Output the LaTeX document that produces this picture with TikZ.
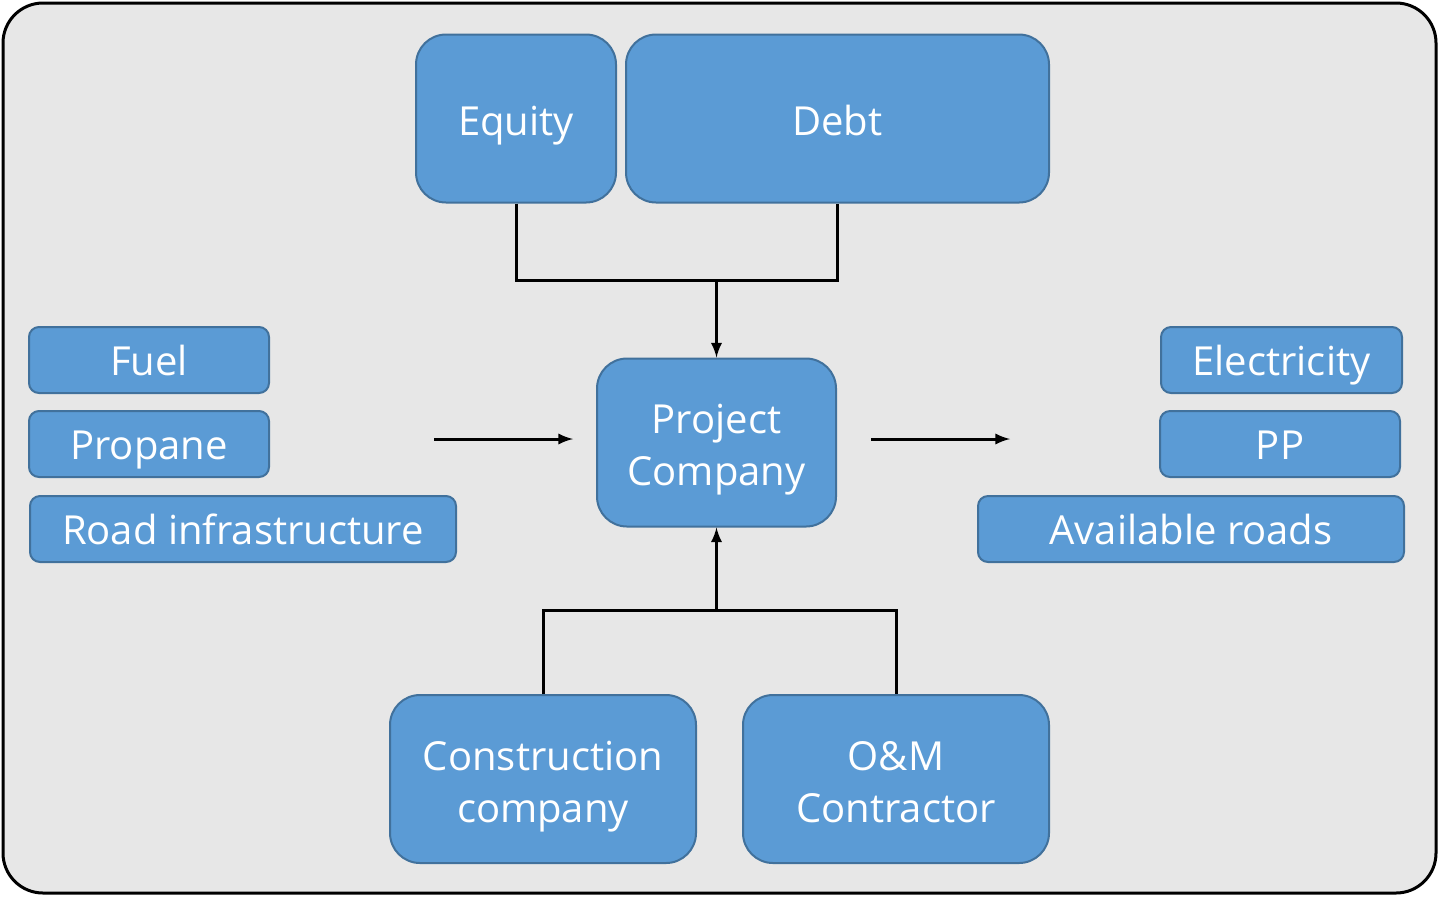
\documentclass[tikz,border=0pt]{standalone}
\usepackage{fontspec}
\setmainfont{Open Sans}
\usepackage{xcolor}
\usetikzlibrary{arrows}
\definecolor{boxblue}{HTML}{5B9BD5}
\definecolor{boxedge}{HTML}{41719C}
\definecolor{panelgray}{HTML}{E7E7E7}
\tikzset{>=latex}
\tikzset{
	bigbox/.style={draw=boxedge, fill=boxblue, line width=1pt,
		rounded corners=15pt, minimum height=84pt, inner sep=2pt,
		align=center, text=white, font=\fontsize{20}{26}\selectfont,
		text height=19pt, text depth=2pt},
	twoline/.style={text height=45pt, text depth=2pt},
	smallbox/.style={draw=boxedge, fill=boxblue, line width=1pt,
		rounded corners=5pt, minimum height=33pt, inner sep=2pt,
		align=center, text=white, font=\fontsize{20}{26}\selectfont,
		text height=17.5pt, text depth=2pt},
	link/.style={line width=1.5pt}
}

\begin{document}
\begin{tikzpicture}[x=0.5pt,y=-0.5pt]
\useasboundingbox (0,0) rectangle (1439,896);
% panel
	\draw[fill=panelgray, line width=1.5pt, rounded corners=20pt] (3,3) rectangle (1436,893);

% finance boxes
	\node[bigbox, minimum width=100pt] (equity) at (516,118.5) {Equity};
	\node[bigbox, minimum width=211.5pt] (debt) at (837.5,118.5) {Debt};

% project company
	\node[bigbox, twoline, minimum width=119.5pt] (spv) at (716.5,442.5) {Project\\Company};

% contractors
	\node[bigbox, twoline, minimum width=153pt] (epc) at (543,779) {Construction\\company};
	\node[bigbox, twoline, minimum width=153pt] (om) at (896,779) {O\&M\\Contractor};

% inputs
	\node[smallbox, minimum width=120pt] (fuel) at (149,360) {Fuel};
	\node[smallbox, minimum width=120pt] (propane) at (149,444) {Propane};
	\node[smallbox, minimum width=213pt] (road) at (243,529) {Road infrastructure};

% outputs
	\node[smallbox, minimum width=120.5pt] (elec) at (1281.5,360) {Electricity};
	\node[smallbox, minimum width=120pt] (pp) at (1280,444) {PP};
	\node[smallbox, minimum width=213pt] (roads) at (1191,529) {Available roads};

% connectors
	\coordinate (topjoin) at (716.5,280);
	\coordinate (botjoin) at (716.5,610);
	\coordinate (inL) at (434,439);
	\coordinate (inR) at (573,439);
	\coordinate (outL) at (871,439);
	\coordinate (outR) at (1010,439);

	\draw[link] (equity.south) |- (topjoin) -| (debt.south);
	\draw[link,->] (topjoin) -- (spv.north);
	\draw[link] (epc.north) |- (botjoin) -| (om.north);
	\draw[link,->] (botjoin) -- (spv.south);
	\draw[link,->] (inL) -- (inR);
	\draw[link,->] (outL) -- (outR);
\end{tikzpicture}
\end{document}
